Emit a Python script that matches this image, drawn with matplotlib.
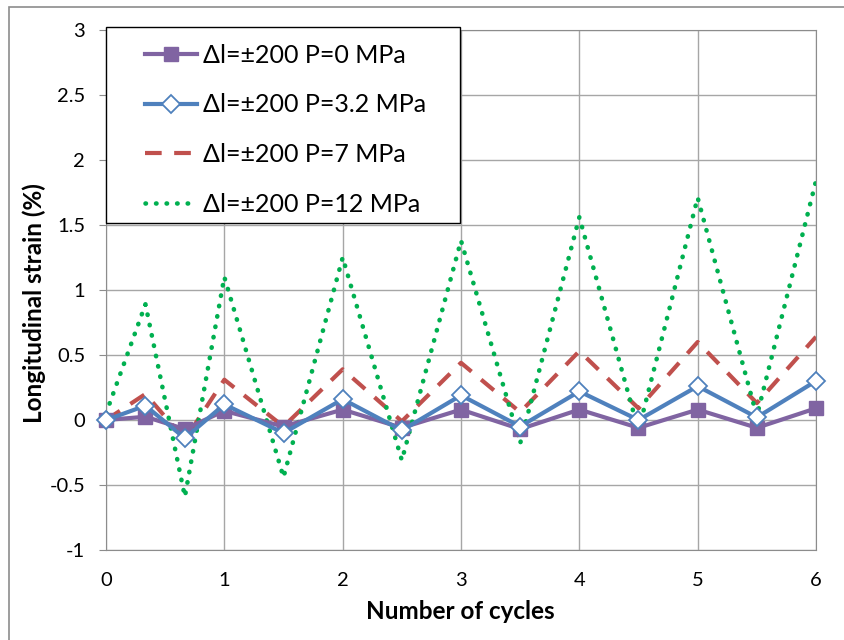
import matplotlib
matplotlib.use('Agg')
from matplotlib import pyplot as plt
from matplotlib.patches import Rectangle

plt.rcParams['font.family'] = ['Lato', 'DejaVu Sans']

# cycle positions
cycles = [0, 1/3, 2/3, 1, 1.5, 2, 2.5, 3, 3.5, 4, 4.5, 5, 5.5, 6]

strain_p0 = [0, 0.025, -0.07, 0.07, -0.05, 0.08, -0.06, 0.08, -0.07, 0.08, -0.06, 0.08, -0.06, 0.09]
strain_p32 = [0, 0.11, -0.14, 0.12, -0.10, 0.16, -0.08, 0.19, -0.05, 0.22, 0.0, 0.26, 0.02, 0.30]
strain_p7 = [0, 0.20, -0.15, 0.31, -0.05, 0.39, -0.01, 0.44, 0.06, 0.53, 0.09, 0.60, 0.13, 0.64]
strain_p12 = [0.05, 0.89, -0.59, 1.10, -0.44, 1.25, -0.31, 1.38, -0.18, 1.56, -0.08, 1.71, 0.03, 1.84]

labels = [u'Δl=±200 P=0 MPa', u'Δl=±200 P=3.2 MPa', u'Δl=±200 P=7 MPa', u'Δl=±200 P=12 MPa']

fig = plt.figure(figsize=(8.45, 6.4), dpi=100)
ax = fig.add_axes([106/845, 1-550/640, 710/845, 520/640])

# outer frame of the chart area
fig.patches.append(Rectangle((9/845, -0.1), 1.2, 1 - 7/640 + 0.1, transform=fig.transFigure,
                             fill=False, edgecolor='#8c8c8c', linewidth=1.2))

ax.plot(cycles, strain_p0, color='#8064a2', lw=3, marker='s', ms=10,
        markerfacecolor='#8064a2', markeredgecolor='#8064a2', label=labels[0],
        zorder=3, clip_on=False)
ax.plot(cycles, strain_p32, color='#4f81bd', lw=3, marker='D', ms=9,
        markerfacecolor='white', markeredgecolor='#4f81bd', markeredgewidth=1.3,
        label=labels[1], zorder=4, clip_on=False)
ax.plot(cycles, strain_p7, color='#c0504d', lw=3, ls=(0, (4, 3)), label=labels[2], zorder=2)
ax.plot(cycles, strain_p12, color='#00b050', lw=3.3, ls=(0, (0.1, 2.2)),
        dash_capstyle='round', label=labels[3], zorder=2)

ax.set_xlim(0, 6)
ax.set_ylim(-1, 3)
ax.set_xticks(range(0, 7))
ax.set_yticks([-1, -0.5, 0, 0.5, 1, 1.5, 2, 2.5, 3])
ax.set_yticklabels(['-1', '-0.5', '0', '0.5', '1', '1.5', '2', '2.5', '3'])
ax.grid(True, color='#a6a6a6', lw=1.0)
ax.set_axisbelow(True)
for s in ax.spines.values():
    s.set_color('#8c8c8c')
ax.tick_params(axis='y', length=5, color='#8c8c8c', labelsize=14.5, pad=10)
ax.tick_params(axis='x', length=0, labelsize=14.5, pad=16)

ax.set_xlabel('Number of cycles', fontsize=17.5, fontweight='bold', va='center')
ax.set_ylabel('Longitudinal strain (%)', fontsize=17.5, fontweight='bold', va='center')
ax.xaxis.set_label_coords(0.4986, -0.119)
ax.yaxis.set_label_coords(-0.101, 0.475)

# legend box drawn by hand so the padding matches
box = Rectangle((0, 0.629), 0.4986, 1.0058 - 0.629, transform=ax.transAxes,
                facecolor='white', edgecolor='black', lw=1.0, zorder=9, clip_on=False)
ax.add_patch(box)
leg = ax.legend(loc='upper left', bbox_to_anchor=(0.055, 0.974), fontsize=18, frameon=False,
                borderpad=0, labelspacing=1.07, handlelength=2.08, handletextpad=0.25,
                borderaxespad=0)
leg.set_zorder(10)

plt.savefig('out.png', dpi=100)
